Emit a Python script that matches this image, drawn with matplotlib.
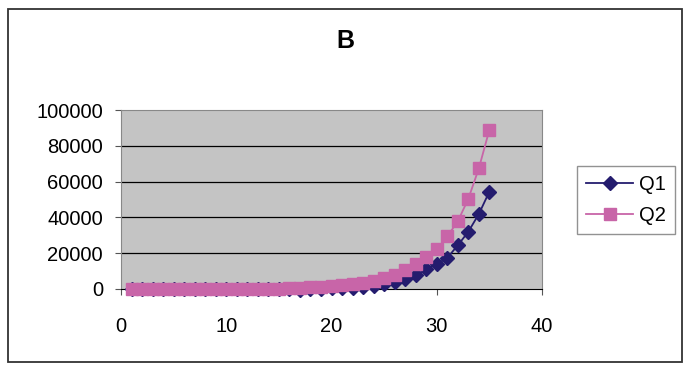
import matplotlib

matplotlib.use("Agg")
import matplotlib.pyplot as plt
from matplotlib.patches import Rectangle

x = list(range(1, 36))
q1 = [0, 0, 0, 0, 0, 0, 0, 0, 0, 0,
      0, 0, 0, 0, 0, 0, -300, 100, 200, 300,
      400, 600, 900, 1500, 2600, 4100, 5400, 7800, 10900, 13900,
      17400, 24400, 32000, 41900, 54400]
q2 = [0, 0, 0, 0, 0, 10, 20, 30, 40, 60,
      80, 110, 150, 200, 260, 340, 700, 900, 1200, 1500,
      2000, 2600, 3500, 4600, 5900, 8100, 10600, 13900, 18000, 22200,
      29400, 37800, 50400, 67400, 88900]
yticks = [0, 20000, 40000, 60000, 80000, 100000]
xticks = [0, 10, 20, 30, 40]

Q1C = "#241c6e"
Q2C = "#c865a8"

plt.rcParams["font.family"] = ["Liberation Sans", "DejaVu Sans"]

fig = plt.figure(figsize=(6.93, 3.71), dpi=100)
# outer chart border
fig.patches.append(Rectangle((8 / 693, 1 - 362 / 371), 674 / 693, 353 / 371,
                             transform=fig.transFigure, fill=False,
                             edgecolor="#333333", linewidth=1.3))

ax = fig.add_axes([121 / 693, 1 - 289 / 371, 421 / 693, 179 / 371])
ax.set_facecolor("#c4c4c4")
ax.set_xlim(0, 40)
ax.set_ylim(0, 100000)
ax.set_yticks(yticks)
ax.set_xticks(xticks)
ax.set_yticklabels([str(v) for v in yticks])
for v in yticks[1:-1]:
    ax.axhline(v, color="black", linewidth=0.9, zorder=1)
for s in ["top", "right", "left"]:
    ax.spines[s].set_color("#888888")
ax.spines["bottom"].set_color("black")
ax.tick_params(axis="both", labelsize=14.5, direction="out", length=4,
               color="#555555")
ax.tick_params(axis="y", pad=9)
ax.tick_params(axis="x", pad=16)

ax.plot(x, q1, color=Q1C, marker="D", markersize=7, linewidth=1.3,
        label="Q1", zorder=3, clip_on=False)
ax.plot(x, q2, color=Q2C, marker="s", markersize=8.5, linewidth=1.3,
        label="Q2", zorder=4, clip_on=False)

fig.text(345 / 693, 1 - 41 / 371, "B", ha="center", va="center",
         fontsize=18, fontweight="bold")

leg = fig.legend(loc="center", bbox_to_anchor=(626 / 693, 1 - 200 / 371),
                 fontsize=14.5, frameon=True, fancybox=False,
                 edgecolor="#777777", handlelength=2.3, borderpad=0.45,
                 labelspacing=0.6, handletextpad=0.3, borderaxespad=0)
leg.get_frame().set_linewidth(1.0)

fig.savefig("out.png", dpi=100)
